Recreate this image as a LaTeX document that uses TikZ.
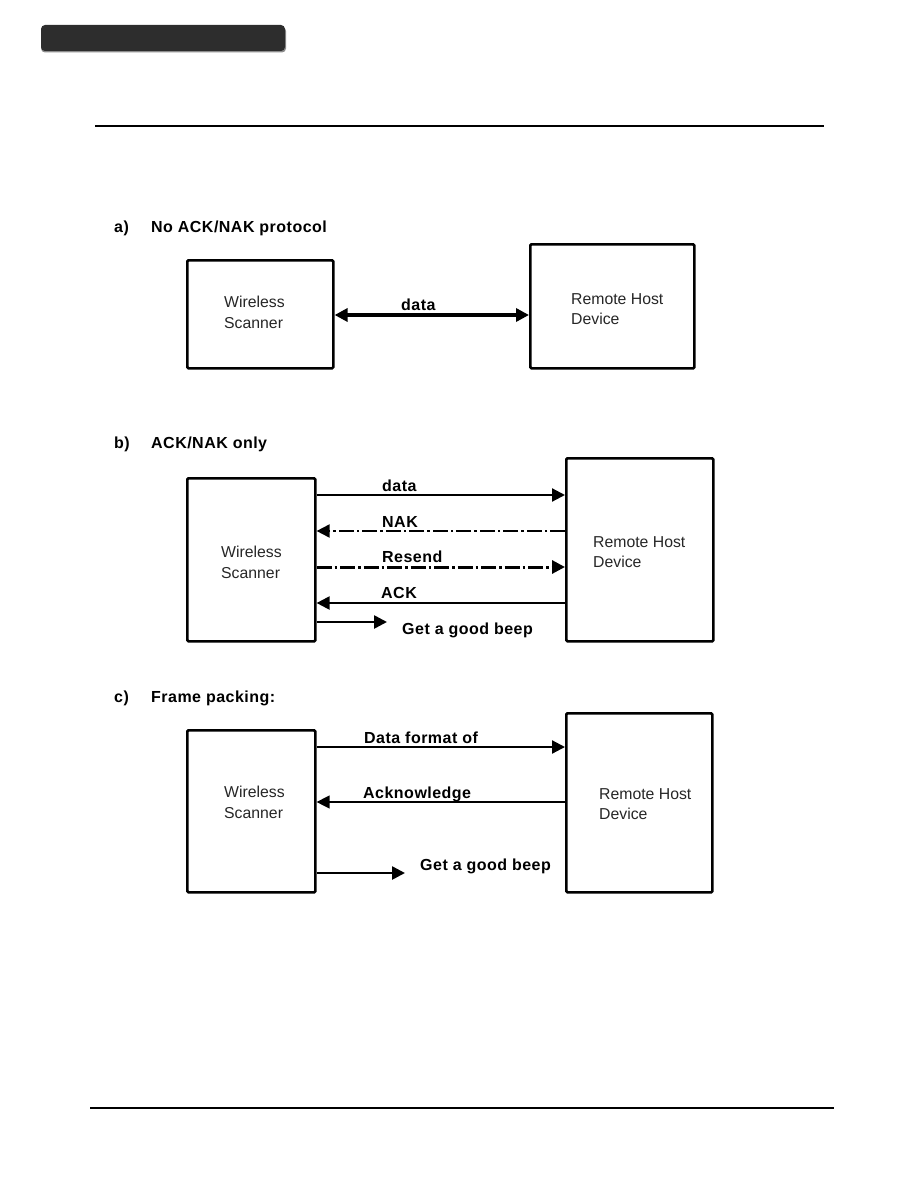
\documentclass[tikz,border=0pt]{standalone}
\usepackage{fontspec}
\setmainfont{Liberation Sans}
\newfontfamily\lblfont{Liberation Sans}[LetterSpace=3]
\usetikzlibrary{arrows.meta}
\definecolor{barcol}{HTML}{2D2D2D}
\tikzset{
  box/.style={draw, line width=2.6pt, rounded corners=1.2pt, anchor=north west, inner sep=0pt},
  boxtext/.style={anchor=base west, inner sep=0pt, font=\fontsize{15.8}{18}\selectfont, text=black!85},
  lbl/.style={anchor=base west, inner sep=0pt, font=\lblfont\bfseries\fontsize{16}{18}\selectfont},
  head/.style={anchor=base west, inner sep=0pt, font=\lblfont\bfseries\fontsize{16}{18}\selectfont},
  tip/.style={-{Triangle[length=13pt,width=13pt]}},
  dashdot/.style={dash pattern=on 15pt off 3pt on 2.5pt off 3pt}
}
\begin{document}
\begin{tikzpicture}[x=1pt,y=-1pt]
\useasboundingbox (0,0) rectangle (918,1188);
% header bar and rules
\fill[black!45, rounded corners=4pt] (41,27) rectangle (286,52.5);
\fill[barcol, rounded corners=4pt] (41,25) rectangle (285,51);
\draw[line width=1.5pt] (95,126) -- (824,126);
\draw[line width=1.3pt] (90,1108) -- (834,1108);

% ---------- a) ----------
\node[head] (ha1) at (114,232.5) {a)};
\node[head] (ha2) at (151,232.5) {No ACK/NAK protocol};
\node[box, minimum width=146pt, minimum height=108pt] (a1) at (186,259) {};
\node[box, minimum width=164pt, minimum height=124pt] (a2) at (529,243) {};
\node[boxtext] (a1t1) at (224,307) {Wireless};
\node[boxtext] (a1t2) at (224,328) {Scanner};
\node[boxtext] (a2t1) at (571,304) {Remote Host};
\node[boxtext] (a2t2) at (571,324.5) {Device};
\coordinate (ya) at (0,315);
\draw[line width=3.6pt, {Triangle[length=13pt,width=13pt]}-{Triangle[length=13pt,width=13pt]}]
  (a1.east |- ya) -- (a2.west |- ya);
\node[lbl] (la) at (401,310) {data};

% ---------- b) ----------
\node[head] (hb1) at (114,448) {b)};
\node[head] (hb2) at (151,448) {ACK/NAK only};
\node[box, minimum width=128pt, minimum height=163pt] (b1) at (186,477) {};
\node[box, minimum width=147pt, minimum height=183pt] (b2) at (565,457) {};
\node[boxtext] (b1t1) at (221,557) {Wireless};
\node[boxtext] (b1t2) at (221,578) {Scanner};
\node[boxtext] (b2t1) at (593,547) {Remote Host};
\node[boxtext] (b2t2) at (593,567) {Device};
\coordinate (yb1) at (0,495);
\coordinate (yb2) at (0,531);
\coordinate (yb3) at (0,567);
\coordinate (yb4) at (0,603);
\coordinate (beepb) at (387,622);
\draw[line width=2.2pt, tip] (b1.east |- yb1) -- (b2.west |- yb1);
\draw[line width=2pt, tip, dashdot] (b2.west |- yb2) -- (b1.east |- yb2);
\draw[line width=3pt, tip, dashdot] (b1.east |- yb3) -- (b2.west |- yb3);
\draw[line width=2.2pt, tip] (b2.west |- yb4) -- (b1.east |- yb4);
\draw[line width=2.6pt, tip] (b1.east |- beepb) -- (beepb);
\node[lbl] (lb1) at (382,491) {data};
\node[lbl] (lb2) at (382,527) {NAK};
\node[lbl] (lb3) at (382,562) {Resend};
\node[lbl] (lb4) at (381,598) {ACK};
\node[lbl] (lb5) at (402,634) {Get a good beep};

% ---------- c) ----------
\node[head] (hc1) at (114,702) {c)};
\node[head] (hc2) at (151,702) {Frame packing:};
\node[box, minimum width=128pt, minimum height=162pt] (c1) at (186,729) {};
\node[box, minimum width=146pt, minimum height=179pt] (c2) at (565,712) {};
\node[boxtext] (c1t1) at (224,797) {Wireless};
\node[boxtext] (c1t2) at (224,818) {Scanner};
\node[boxtext] (c2t1) at (599,799) {Remote Host};
\node[boxtext] (c2t2) at (599,819) {Device};
\coordinate (yc1) at (0,747);
\coordinate (yc2) at (0,802);
\coordinate (beepc) at (405,873);
\draw[line width=2.2pt, tip] (c1.east |- yc1) -- (c2.west |- yc1);
\draw[line width=1.3pt, tip] (c2.west |- yc2) -- (c1.east |- yc2);
\draw[line width=2.6pt, tip] (c1.east |- beepc) -- (beepc);
\node[lbl] (lc1) at (364,743) {Data format of};
\node[lbl] (lc2) at (363,798) {Acknowledge};
\node[lbl] (lc3) at (420,870) {Get a good beep};
\end{tikzpicture}
\end{document}
